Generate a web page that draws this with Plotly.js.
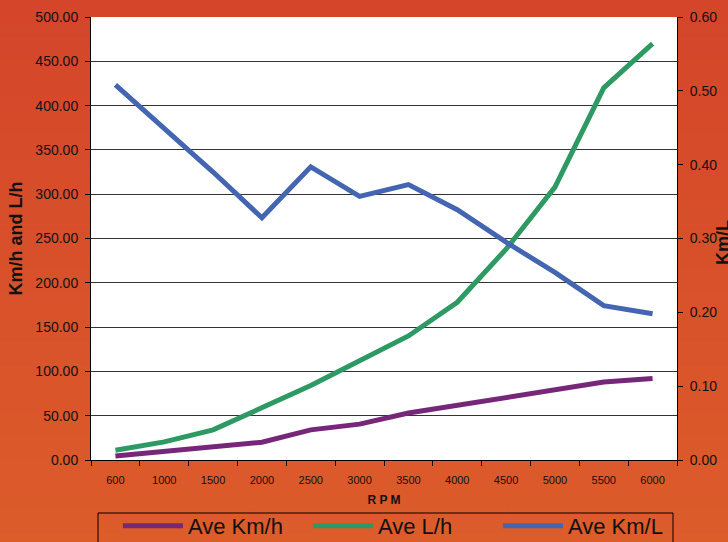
<!DOCTYPE html>
<html><head><meta charset="utf-8">
<script src="https://cdn.plot.ly/plotly-3.0.1.min.js"></script>
<style>
html,body{margin:0;padding:0;}
body{width:728px;height:542px;background:linear-gradient(#D4452A,#DC5C2A);overflow:hidden;}
#chart{width:728px;height:542px;}
</style>
</head><body><div id="chart"></div>
<script>
const rpm = ['600','1000','1500','2000','2500','3000','3500','4000','4500','5000','5500','6000'];
const aveKmh = [4.5, 9.5, 14, 20, 34, 40.5, 53, 62, 71, 80, 88, 92];
const aveLh = [11, 20.5, 34, 59, 84, 112, 140, 178, 238, 308, 420, 470];
const aveKmL = [0.508, 0.450, 0.390, 0.328, 0.397, 0.357, 0.373, 0.339, 0.295, 0.254, 0.209, 0.198];
const seriesNames = ['Ave Km/h', 'Ave L/h', 'Ave Km/L'];
const seriesColors = ['#77277A', '#2E9963', '#4465B1'];
const rightTitle = 'Km/L';

const FONT = 'Liberation Sans, Arial, sans-serif';

const traces = [
  {x: rpm, y: aveKmh, name: seriesNames[0], type: 'scatter', mode: 'lines',
   line: {color: seriesColors[0], width: 5}, yaxis: 'y'},
  {x: rpm, y: aveLh, name: seriesNames[1], type: 'scatter', mode: 'lines',
   line: {color: seriesColors[1], width: 5}, yaxis: 'y'},
  {x: rpm, y: aveKmL, name: seriesNames[2], type: 'scatter', mode: 'lines',
   line: {color: seriesColors[2], width: 5}, yaxis: 'y2'}
];

// plot area: x 91..677, y 17..460 (px)
const layout = {
  width: 728, height: 542,
  paper_bgcolor: 'rgba(0,0,0,0)',
  plot_bgcolor: '#FFFFFF',
  margin: {l: 91, r: 51, t: 17, b: 82, pad: 0, autoexpand: false},
  font: {family: FONT, color: '#111'},
  showlegend: true,
  legend: {
    orientation: 'h', x: 0.046, xanchor: 'left', y: -0.1016, yanchor: 'top',
    bgcolor: 'rgba(0,0,0,0)', borderwidth: 0,
    font: {family: FONT, size: 22, color: '#111'},
    entrywidth: 115, itemwidth: 60
  },
  shapes: [{
    type: 'rect', xref: 'paper', yref: 'paper',
    x0: (98 - 91) / 586, x1: (673 - 91) / 586,
    y0: (460 - 513) / 443, y1: (460 - 560) / 443,
    line: {color: '#000', width: 1}, fillcolor: 'rgba(0,0,0,0)', layer: 'above'
  }],
  annotations: [{
    text: rightTitle, xref: 'paper', yref: 'paper',
    x: (723 - 91) / 586, y: 0.49, xanchor: 'center', yanchor: 'middle',
    textangle: -90, showarrow: false,
    font: {family: FONT, size: 18, weight: 'bold', color: '#111'}
  }],
  xaxis: {
    type: 'category', range: [-0.5, 11.5], tickson: 'boundaries',
    ticks: 'outside', ticklen: 5, tickcolor: '#000', showline: true, linecolor: '#000', linewidth: 1,
    showgrid: false, zeroline: false, automargin: false,
    tickfont: {family: FONT, size: 11, color: '#111'},
    ticklabelstandoff: 10,
    title: {text: 'R P M', font: {family: FONT, size: 12, weight: 'bold', color: '#111'}, standoff: 10}
  },
  yaxis: {
    range: [0, 500], dtick: 50, tick0: 0, tickformat: '.2f',
    ticks: 'outside', ticklen: 5, tickcolor: '#000', showline: true, linecolor: '#000', linewidth: 1,
    showgrid: true, gridcolor: '#333', gridwidth: 1, zeroline: false, automargin: false,
    tickfont: {family: FONT, size: 14, color: '#111'},
    ticklabelstandoff: 4,
    title: {text: 'Km/h and L/h', font: {family: FONT, size: 18, weight: 'bold', color: '#111'}, standoff: 8}
  },
  yaxis2: {
    overlaying: 'y', side: 'right', range: [0, 0.6], dtick: 0.1, tick0: 0, tickformat: '.2f',
    ticks: 'outside', ticklen: 5, tickcolor: '#000', showline: true, linecolor: '#000', linewidth: 1,
    showgrid: false, zeroline: false, automargin: false,
    tickfont: {family: FONT, size: 14, color: '#111'},
    ticklabelstandoff: 4
  }
};

Plotly.newPlot('chart', traces, layout, {displayModeBar: false, staticPlot: true});
</script></body></html>
